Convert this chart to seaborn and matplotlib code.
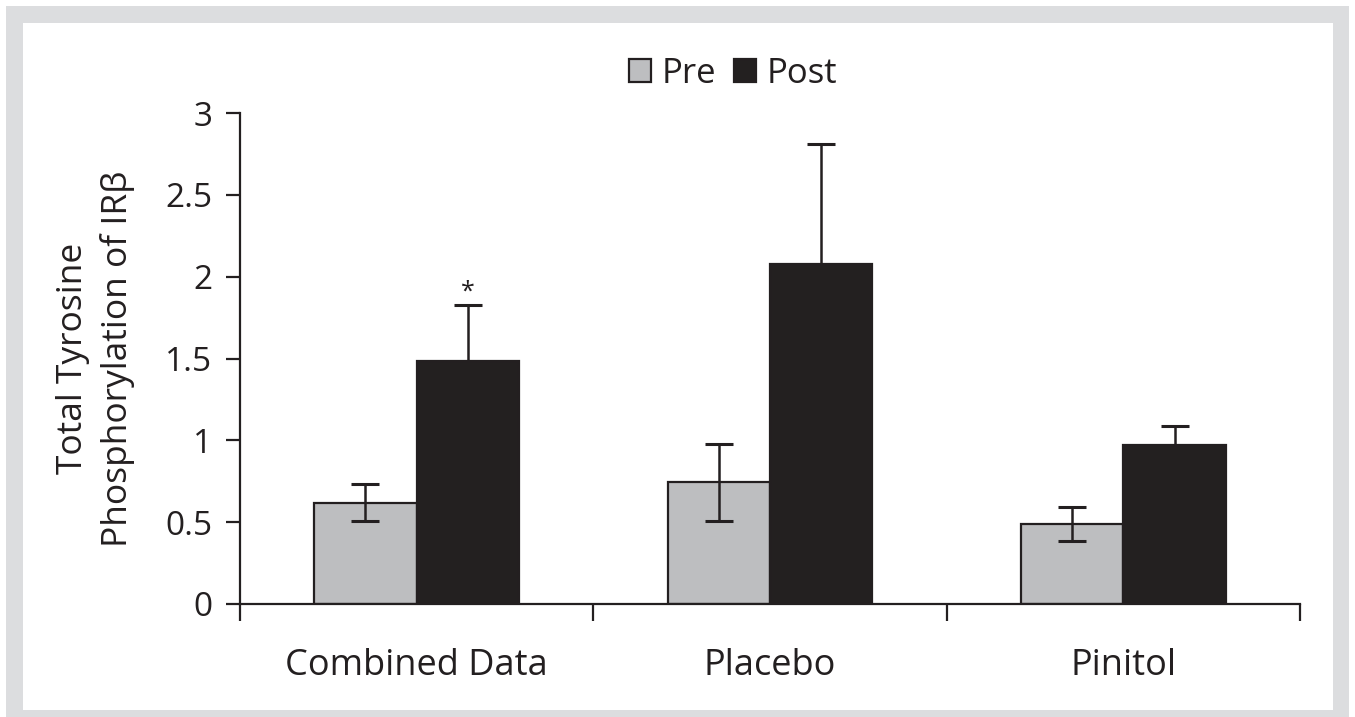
import numpy as np
import pandas as pd
import seaborn as sns
from matplotlib import pyplot as plt
from matplotlib.patches import Rectangle

groups = ["Combined Data", "Placebo", "Pinitol"]
phases = ["Pre", "Post"]
pre_mean = [0.62, 0.745, 0.49]
pre_err = [0.115, 0.235, 0.105]
post_mean = [1.485, 2.08, 0.97]
post_err = [0.34, 0.73, 0.12]
star_group = "Combined Data"
star_y = 1.83

df = pd.DataFrame({
    "group": groups * 2,
    "phase": ["Pre"] * 3 + ["Post"] * 3,
    "value": pre_mean + post_mean,
    "err": pre_err + post_err,
})

sns.set_style("ticks")
plt.rcParams["font.family"] = ["Open Sans", "DejaVu Sans"]
ink = "#231f20"

fig = plt.figure(figsize=(13.55, 7.17), dpi=100)
fig.patches.append(Rectangle((6 / 1355, 0), 1343 / 1355, 711 / 717,
                             transform=fig.transFigure, facecolor="#dcdddf",
                             edgecolor="none", zorder=-2))
fig.patches.append(Rectangle((23 / 1355, 7 / 717), 1310 / 1355, 687 / 717,
                             transform=fig.transFigure, facecolor="white",
                             edgecolor="none", zorder=-1))
ax = fig.add_axes([240 / 1355, 1 - 604 / 717, 1060 / 1355, 491 / 717])
ax.set_facecolor("none")

sns.barplot(data=df, x="group", y="value", hue="phase", order=groups,
            hue_order=phases, palette=["#bdbec0", ink], width=0.58, gap=0,
            errorbar=None, edgecolor=ink, linewidth=1.6, ax=ax)

# error bars on bar centres
for cont, ph in zip(ax.containers, phases):
    sub = df[df["phase"] == ph].set_index("group").loc[groups]
    xs = [b.get_x() + b.get_width() / 2 for b in cont]
    ax.errorbar(xs, sub["value"], yerr=sub["err"], fmt="none", ecolor=ink,
                elinewidth=1.8, capsize=10, capthick=2.2, zorder=1)
    for b in cont:
        b.set_zorder(2 if ph == "Post" else 0)

# asterisk
post_bars = ax.containers[1]
i = groups.index(star_group)
bx = post_bars[i].get_x() + post_bars[i].get_width() / 2
ax.text(bx, star_y, "*", ha="center", va="bottom", fontsize=18, color=ink)

ax.set_ylim(0, 3)
ax.set_xlim(-0.5, 2.5)
ax.set_yticks([0, 0.5, 1, 1.5, 2, 2.5, 3])
ax.set_yticklabels(["0", "0.5", "1", "1.5", "2", "2.5", "3"])
ax.set_xticks([-0.5, 0.5, 1.5, 2.5])
ax.set_xticklabels([])
ax.set_xticks([0, 1, 2], minor=True)
ax.set_xticklabels(groups, minor=True)
ax.tick_params(axis="x", which="major", length=12, width=1.6, color=ink)
ax.tick_params(axis="x", which="minor", length=0, labelsize=26, pad=32,
               labelcolor=ink)
ax.tick_params(axis="y", length=10, width=1.6, color=ink, labelsize=24,
               labelcolor=ink, pad=10)
for s in ["top", "right"]:
    ax.spines[s].set_visible(False)
for s in ["left", "bottom"]:
    ax.spines[s].set_linewidth(1.6)
    ax.spines[s].set_color(ink)

ax.set_xlabel("")
ax.set_ylabel("Total Tyrosine\nPhosphorylation of IRβ", fontsize=25.5,
              color=ink, labelpad=22, linespacing=1.35)

leg = ax.legend(loc="lower center", bbox_to_anchor=(0.465, 1.01), ncol=2,
                frameon=False, fontsize=25, handlelength=0.65, handleheight=0.65,
                handletextpad=0.3, columnspacing=0.5, borderpad=0)
for t in leg.get_texts():
    t.set_color(ink)

fig.savefig("out.png", dpi=100)
